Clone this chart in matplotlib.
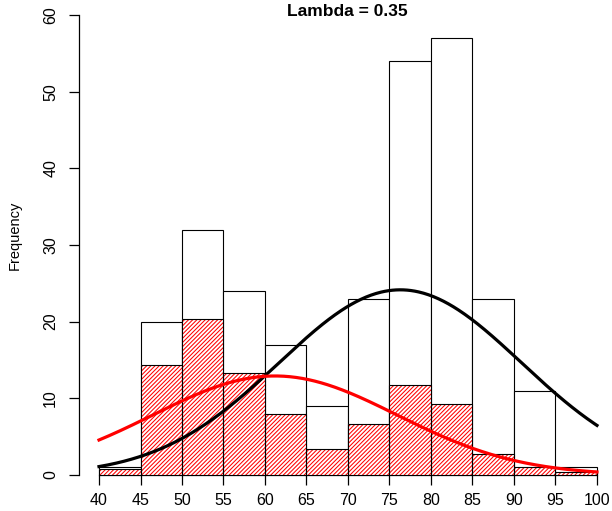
import numpy as np
import matplotlib
matplotlib.use("Agg")
import matplotlib.pyplot as plt

plt.rcParams['font.family'] = ['Liberation Sans', 'DejaVu Sans']
plt.rcParams['hatch.linewidth'] = 0.75

# Histogram bins (waiting time) and counts
bin_edges = [40, 45, 50, 55, 60, 65, 70, 75, 80, 85, 90, 95, 100]
total_counts = [1, 20, 32, 24, 17, 9, 23, 54, 57, 23, 11, 1]
# weighted (component 1) counts, hatched red
comp1_counts = [0.74, 14.4, 20.4, 13.3, 7.9, 3.35, 6.65, 11.8, 9.26, 2.8, 1.04, 0.4]

# Fitted mixture components (scaled normal densities)
n_obs = 272
bin_width = 5
lam = 0.35
mu1, sd1 = 61.2, 14.7   # red component
mu2, sd2 = 76.3, 14.6   # black component

title = "Lambda = 0.35"
ylabel = "Frequency"
xticks = [40, 45, 50, 55, 60, 65, 70, 75, 80, 85, 90, 95, 100]
yticks = [0, 10, 20, 30, 40, 50, 60]

W, H = 612, 511
fig = plt.figure(figsize=(W / 100, H / 100), dpi=100)
ax = fig.add_axes([79 / W, (H - 475) / H, (W - 79) / W, 475 / H])
ax.set_xlim(37.59, 101.81)
ax.set_ylim(0, 61.96)

lefts = np.array(bin_edges[:-1])
widths = np.diff(bin_edges)
ax.bar(lefts, total_counts, width=widths, align='edge', color='white',
       edgecolor='black', linewidth=0.8, zorder=2)
ax.bar(lefts, comp1_counts, width=widths, align='edge', color='white',
       edgecolor='red', linewidth=0, hatch='////////', zorder=3)
ax.bar(lefts, comp1_counts, width=widths, align='edge', fill=False,
       edgecolor='black', linewidth=0.8, zorder=4)

xs = np.linspace(40, 100, 400)
def scaled_norm(x, mu, sd, w):
    return n_obs * bin_width * w * np.exp(-(x - mu) ** 2 / (2 * sd ** 2)) / (sd * np.sqrt(2 * np.pi))

ax.plot(xs, scaled_norm(xs, mu2, sd2, 1 - lam), color='black', lw=2.3, zorder=5)
ax.plot(xs, scaled_norm(xs, mu1, sd1, lam), color='red', lw=2.3, zorder=6)

for s in ['top', 'right']:
    ax.spines[s].set_visible(False)
ax.spines['left'].set_bounds(0, 60)
ax.spines['bottom'].set_bounds(40, 100)
ax.spines['left'].set_linewidth(0.9)
ax.spines['bottom'].set_linewidth(0.9)

ax.set_xticks(xticks)
ax.set_yticks(yticks)
ax.tick_params(axis='both', direction='out', length=7, width=0.9, labelsize=11.5)
ax.tick_params(axis='x', pad=6)
ax.tick_params(axis='y', pad=8)
for lbl in ax.get_yticklabels():
    lbl.set_rotation(90)
    lbl.set_va('center')

fig.text(15 / W, 1 - 235 / H, ylabel, rotation=90, ha='center', va='center', fontsize=10.5)
fig.text(347.5 / W, 1 - 11.5 / H, title, ha='center', va='center', fontsize=12.5, fontweight='bold')

fig.savefig('out.png', dpi=100)
